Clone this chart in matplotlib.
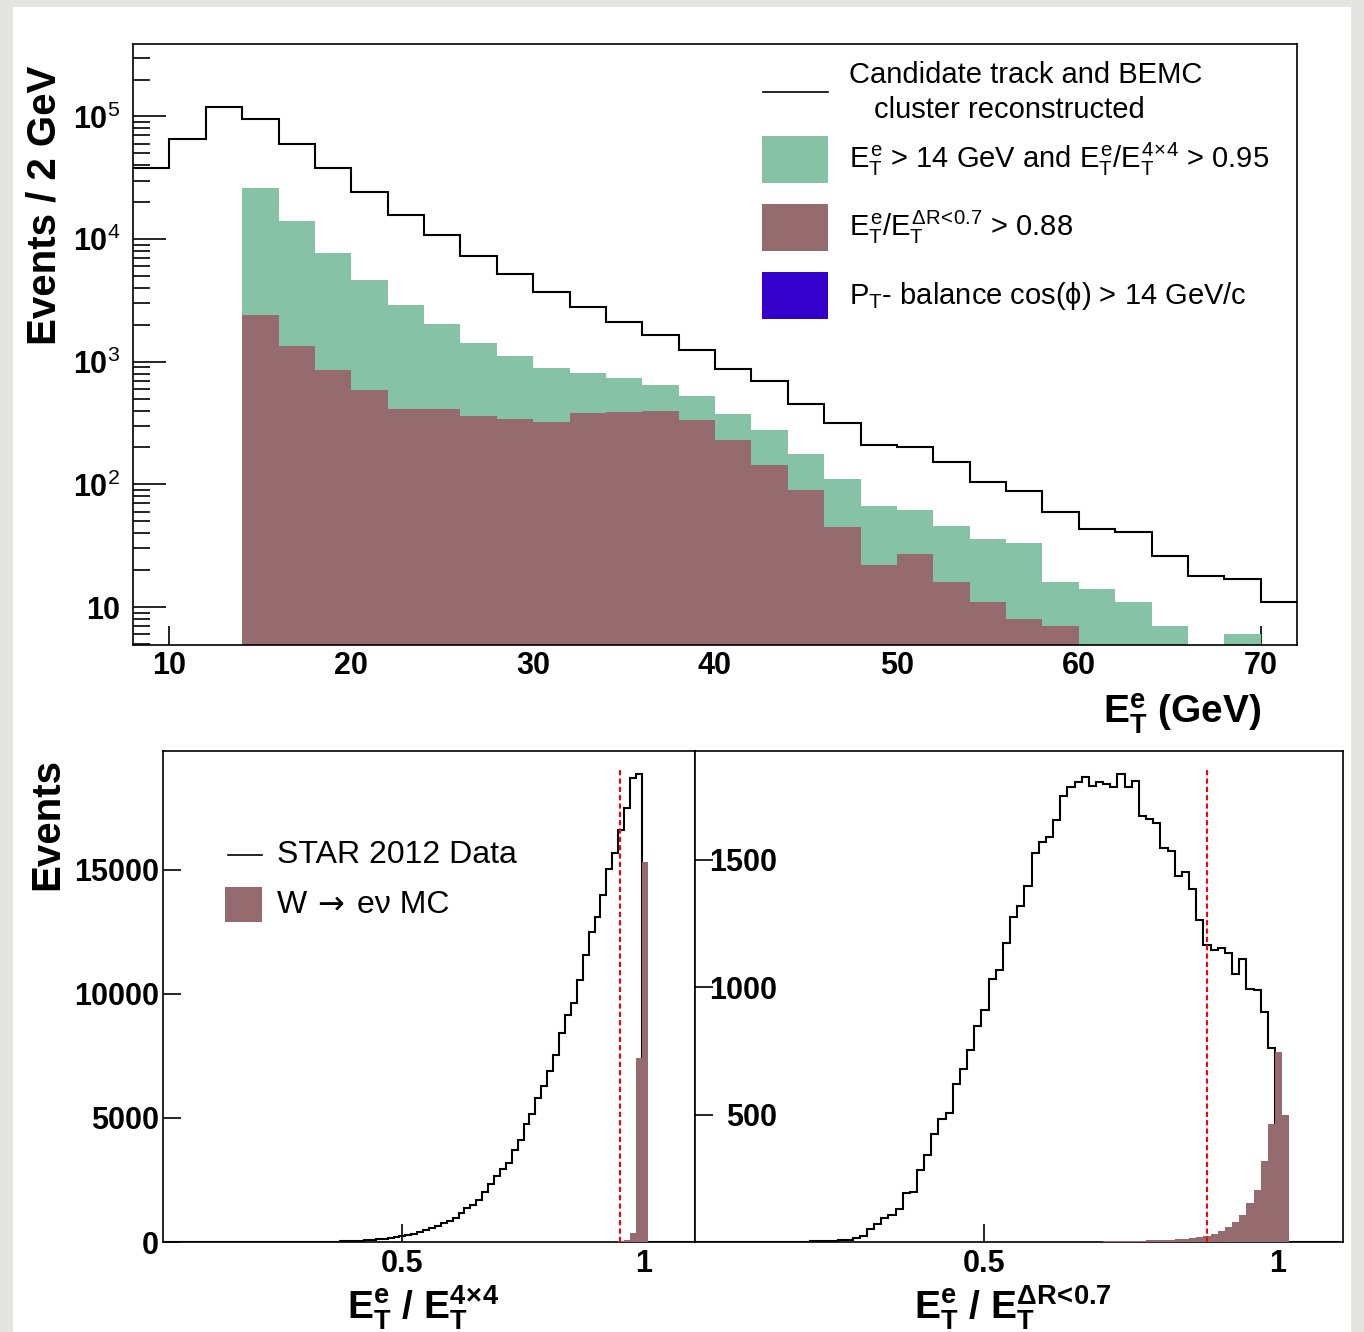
import numpy as np
import matplotlib
matplotlib.use('Agg')
import matplotlib.pyplot as plt
from matplotlib.patches import Rectangle
from matplotlib.lines import Line2D
from matplotlib.ticker import LogLocator, NullFormatter

plt.rcParams['font.family'] = ['Liberation Sans', 'DejaVu Sans']
plt.rcParams['mathtext.fontset'] = 'custom'
plt.rcParams['mathtext.rm'] = 'Liberation Sans'
plt.rcParams['mathtext.it'] = 'Liberation Sans'
plt.rcParams['mathtext.bf'] = 'Liberation Sans:bold'

# ---- top panel: E_T^e spectra, 2 GeV bins from 8 to 72 GeV
et_edges = np.arange(8, 74, 2)
cand = [37700, 66000, 119000, 95000, 59400, 37800, 24100, 15800, 10800, 7340,
        5170, 3715, 2820, 2110, 1640, 1240, 875, 693, 454, 318,
        211, 200, 151, 105, 89, 60, 43, 41, 26, 18, 17, 11]
cut_iso4 = [0, 0, 0, 26200, 14000, 7670, 4630, 2910, 2040, 1430,
            1120, 887, 806, 734, 646, 529, 376, 280, 177, 111,
            67, 62, 46, 36, 33, 16, 14, 11, 7, 0, 6, 0]
cut_dr = [0, 0, 0, 2410, 1340, 851, 593, 415, 410, 360,
          342, 321, 385, 387, 398, 333, 228, 145, 90, 45,
          22, 27, 16, 11, 8, 7, 0, 0, 0, 0, 0, 0]
cut_pt = [0] * 32

# ---- bottom panels: isolation ratios, 90 bins
r_edges = np.linspace(0.006, 1.106, 91)

data_4x4 = np.zeros(90)
data_4x4[23:81] = [1, 2, 3, 5, 8, 12, 17, 24, 33, 45,
                   58, 75, 92, 112, 135, 160, 195, 230, 270, 329,
                   423, 490, 571, 652, 759, 853, 974, 1163, 1378, 1472,
                   1700, 1996, 2345, 2667, 2950, 3192, 3689, 4092, 4737, 5140,
                   5786, 6297, 6874, 7547, 8420, 9160, 9630, 10572, 11552, 12492,
                   13097, 13999, 15047, 15678, 16592, 17492, 18716, 18850]
mc_4x4 = np.zeros(90)
mc_4x4[74:82] = [5, 10, 20, 40, 80, 380, 7400, 15300]

data_dr = np.zeros(90)
data_dr[15:81] = [1, 2, 3, 4, 5, 7, 9, 16, 22, 52,
                  69, 95, 107, 131, 193, 196, 283, 341, 423, 482,
                  508, 620, 679, 752, 847, 909, 1031, 1066, 1175, 1277,
                  1319, 1398, 1525, 1571, 1588, 1656, 1750, 1787, 1804, 1824,
                  1791, 1807, 1798, 1784, 1835, 1785, 1808, 1671, 1660, 1643,
                  1546, 1533, 1437, 1450, 1387, 1264, 1164, 1146, 1154, 1135,
                  1050, 1109, 991, 987, 903, 762]
mc_dr = np.zeros(90)
mc_dr[55:83] = [1, 1, 2, 2, 3, 3, 4, 5, 6, 7,
                8, 9, 11, 13, 16, 20, 25, 31, 42, 59,
                79, 105, 153, 205, 318, 463, 744, 499]

cut_4x4_val = 0.95
cut_dr_val = 0.88

green = '#86c2a5'
brown = '#956b6f'
blue = '#3300cc'

W, H = 1364, 1332
fig = plt.figure(figsize=(W / 100, H / 100), dpi=100, facecolor='#e4e4e0')
fig.add_artist(Rectangle((13 / W, 0), 1338 / W, 1 - 7 / H, transform=fig.transFigure,
                         facecolor='white', edgecolor='none', zorder=-1))

# ================= top panel =================
ax1 = fig.add_axes([133 / W, 1 - 645 / H, 1164 / W, 601 / H])
floor = 4.9
for vals, col in [(cut_iso4, green), (cut_dr, brown), (cut_pt, blue)]:
    v = np.array(vals, dtype=float)
    if v.max() > 0:
        ax1.stairs(np.where(v > 0, v, floor), et_edges, baseline=floor, fill=True,
                   color=col, lw=1, zorder=1)
ax1.stairs(cand, et_edges, baseline=None, color='black', lw=1.5, zorder=3)
ax1.set_yscale('log')
ax1.set_xlim(8, 72)
ax1.set_ylim(floor, 3.9e5)
ax1.set_axisbelow(True)
ax1.set_yticks([10, 100, 1e3, 1e4, 1e5])
ax1.set_yticklabels(['10', r'$\mathbf{10}^{2}$', r'$\mathbf{10}^{3}$',
                     r'$\mathbf{10}^{4}$', r'$\mathbf{10}^{5}$'],
                    fontsize=22, fontweight='bold')
ax1.yaxis.set_minor_locator(LogLocator(base=10, subs=np.arange(2, 10), numticks=20))
ax1.yaxis.set_minor_formatter(NullFormatter())
ax1.set_xticks([10, 20, 30, 40, 50, 60, 70])
ax1.set_xticklabels(['10', '20', '30', '40', '50', '60', '70'], fontsize=22, fontweight='bold')
ax1.tick_params(axis='y', which='major', direction='in', length=24, width=1.2, pad=9)
ax1.tick_params(axis='y', which='minor', direction='in', length=12, width=1.2)
ax1.tick_params(axis='x', which='major', direction='in', length=14, width=1.2, pad=4)
for s in ax1.spines.values():
    s.set_linewidth(1.2)

# legend of top panel
t = ax1.transAxes
ax1.add_line(Line2D([0.5412, 0.5971], [0.9201, 0.9201], transform=t, color='black', lw=1.2))
ax1.text(0.6151, 0.9484, 'Candidate track and BEMC', transform=t, fontsize=21, va='center')
ax1.text(0.6366, 0.8902, 'cluster reconstructed', transform=t, fontsize=21, va='center')
leg_rows = [(green, 0.7687, r'$E_T^e$ > 14 GeV and $E_T^e/E_T^{4\!\times\!4}$ > 0.95'),
            (brown, 0.6556, r'$E_T^e/E_T^{\Delta R\!<\!0.7}$ > 0.88'),
            (blue, 0.5424, r'P$_T$- balance cos(ϕ) > 14 GeV/c')]
for col, yb, label in leg_rows:
    ax1.add_patch(Rectangle((0.5404, yb), 0.0567, 0.0782, transform=t,
                            facecolor=col, edgecolor='none', zorder=5))
    ax1.text(0.6151, yb + 0.039, label, transform=t, fontsize=21, va='center')

fig.text(45 / W, 1 - 205 / H, 'Events / 2 GeV', rotation=90, ha='center', va='center',
         fontsize=29, fontweight='bold')
fig.text(1262 / W, 1 - 723 / H, r'$\mathbf{E_T^e}$ (GeV)', ha='right', va='baseline',
         fontsize=28, fontweight='bold')

# ================= bottom panels =================
ax2 = fig.add_axes([163 / W, 1 - 1242 / H, 532 / W, 491 / H])
ax3 = fig.add_axes([695 / W, 1 - 1242 / H, 648 / W, 491 / H])

for ax, dat, mc, cut in [(ax2, data_4x4, mc_4x4, cut_4x4_val), (ax3, data_dr, mc_dr, cut_dr_val)]:
    ax.stairs(dat, r_edges, baseline=None, color='black', lw=1.5, zorder=2)
    ax.stairs(mc, r_edges, baseline=0, fill=True, color=brown, lw=1, zorder=3)
    ax.axvline(cut, ymin=0, ymax=0.965, color='red', ls=(0, (2.5, 1.5)), lw=1.5, zorder=4)
    ax.set_ylim(0, 1.05 * dat.max())
    ax.set_axisbelow(True)
    ax.set_xticks([0.5, 1])
    ax.set_xticklabels(['0.5', '1'], fontsize=22, fontweight='bold')
    ax.tick_params(axis='both', direction='in', length=13, width=1.2)
    ax.tick_params(axis='x', pad=5)
    for s in ax.spines.values():
        s.set_linewidth(1.2)

ax2.set_xlim(r_edges[0], r_edges[-1])
ax3.set_xlim(r_edges[0], 1.112)

ax2.set_yticks([0, 5000, 10000, 15000])
ax2.set_yticklabels(['0', '5000', '10000', '15000'], fontsize=22, fontweight='bold')
ax2.tick_params(axis='y', pad=3)
ax3.set_yticks([500, 1000, 1500])
ax3.set_yticklabels(['500', '1000', '1500'], fontsize=22, fontweight='bold')
ax3.tick_params(axis='y', pad=-59)

# legend of bottom-left panel
t2 = ax2.transAxes
ax2.add_line(Line2D([0.1222, 0.1861], [0.7882, 0.7882], transform=t2, color='black', lw=1.2))
ax2.text(0.2143, 0.7882, 'STAR 2012 Data', transform=t2, fontsize=23, va='center')
ax2.add_patch(Rectangle((0.1165, 0.6517), 0.0695, 0.0713, transform=t2,
                        facecolor=brown, edgecolor='none', zorder=5))
ax2.text(0.2143, 0.6864, 'W', transform=t2, fontsize=23, va='center')
ax2.text(0.2900, 0.6864, '→', transform=t2, fontsize=23, va='center', family=['DejaVu Sans'])
ax2.text(0.3650, 0.6864, 'eν MC', transform=t2, fontsize=23, va='center')

fig.text(47 / W, 1 - 824 / H, 'Events', rotation=90, ha='center', va='center',
         fontsize=29, fontweight='bold')
fig.text(423 / W, 1 - 1319 / H, r'$\mathbf{E_T^e}$ / $\mathbf{E_T^{4\!\times\!4}}$',
         ha='center', va='baseline', fontsize=28, fontweight='bold')
fig.text(1013 / W, 1 - 1319 / H, r'$\mathbf{E_T^e}$ / $\mathbf{E_T^{\Delta R\!<\!0.7}}$',
         ha='center', va='baseline', fontsize=28, fontweight='bold')

fig.savefig('out.png', dpi=100, facecolor=fig.get_facecolor())
